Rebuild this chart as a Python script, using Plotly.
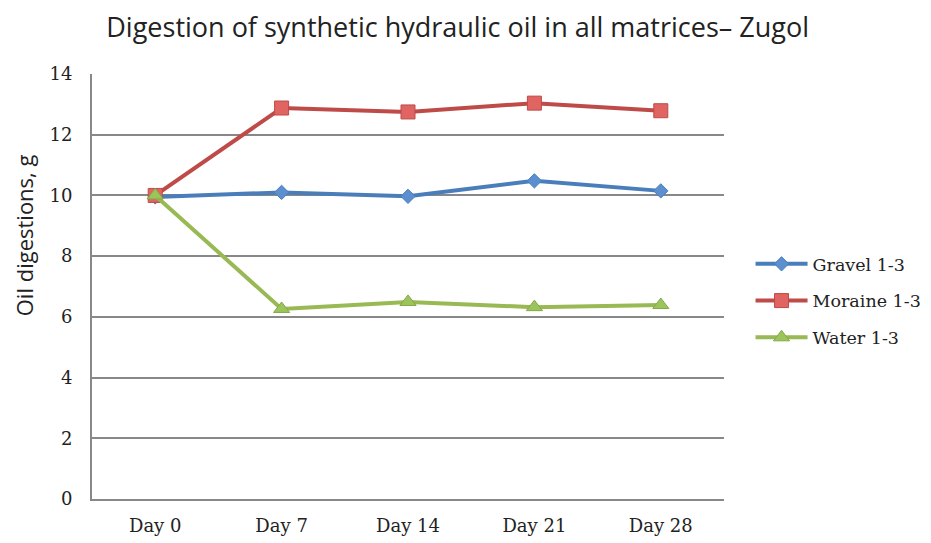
import plotly.graph_objects as go

categories = ["Day 0", "Day 7", "Day 14", "Day 21", "Day 28"]
gravel = [9.95, 10.1, 9.97, 10.48, 10.15]
moraine = [10.0, 12.88, 12.75, 13.04, 12.79]
water = [10.0, 6.26, 6.49, 6.32, 6.39]
y_ticks = [0, 2, 4, 6, 8, 10, 12, 14]

serif = "DejaVu Serif, serif"
sans = "Open Sans, sans-serif"

fig = go.Figure()
fig.add_trace(go.Scatter(x=categories, y=gravel, name="Gravel 1-3", mode="lines+markers",
                         legendgroup="g",
                         line=dict(color="#4a7ebb", width=4),
                         marker=dict(symbol="diamond", size=11, color="#5b8fd0",
                                     line=dict(color="#4a7ebb", width=1))))
fig.add_trace(go.Scatter(x=categories, y=moraine, name="Moraine 1-3", mode="lines+markers",
                         legendgroup="m",
                         line=dict(color="#be4b48", width=4),
                         marker=dict(symbol="square", size=14, color="#e06461",
                                     line=dict(color="#be4b48", width=1))))
fig.add_trace(go.Scatter(x=categories, y=water, name="Water 1-3", mode="lines+markers",
                         legendgroup="w",
                         line=dict(color="#98b954", width=4),
                         marker=dict(symbol="triangle-up", size=14, color="#9bc45a",
                                     line=dict(color="#86a84a", width=1))))

fig.update_layout(
    width=931, height=543,
    paper_bgcolor="white", plot_bgcolor="white",
    margin=dict(l=84, r=215, t=66, b=52, autoexpand=False),
    title=dict(text="Digestion of synthetic hydraulic oil in all matrices\u2013 Zugol",
               x=0.483, xanchor="center", y=0.964, yanchor="middle",
               font=dict(family=sans, size=27, color="#222")),
    legend=dict(x=1.042, y=0.466, xanchor="left", yanchor="middle",
                font=dict(family=serif, size=17.5, color="#222"),
                tracegroupgap=11, itemwidth=52),
    showlegend=True,
    annotations=[dict(text="Oil digestions, g", textangle=-90, xref="paper", yref="paper",
                      x=-0.108, y=0.62, xanchor="center", yanchor="middle", showarrow=False,
                      font=dict(family=sans, size=22, color="#222"))],
)
fig.update_xaxes(type="category", range=[-0.5, 4.5], showline=True, linecolor="#888",
                 linewidth=2, showgrid=False, ticks="", ticklen=0, ticklabelstandoff=9,
                 tickfont=dict(family=serif, size=18, color="#222"))
fig.update_yaxes(range=[0, 14], tickvals=y_ticks, showline=True, linecolor="#888",
                 linewidth=2, showgrid=True, gridcolor="#888", gridwidth=1.5,
                 zeroline=False, ticks="", ticklabelstandoff=14,
                 tickfont=dict(family=serif, size=18, color="#222"))

fig.write_html("out.html")
